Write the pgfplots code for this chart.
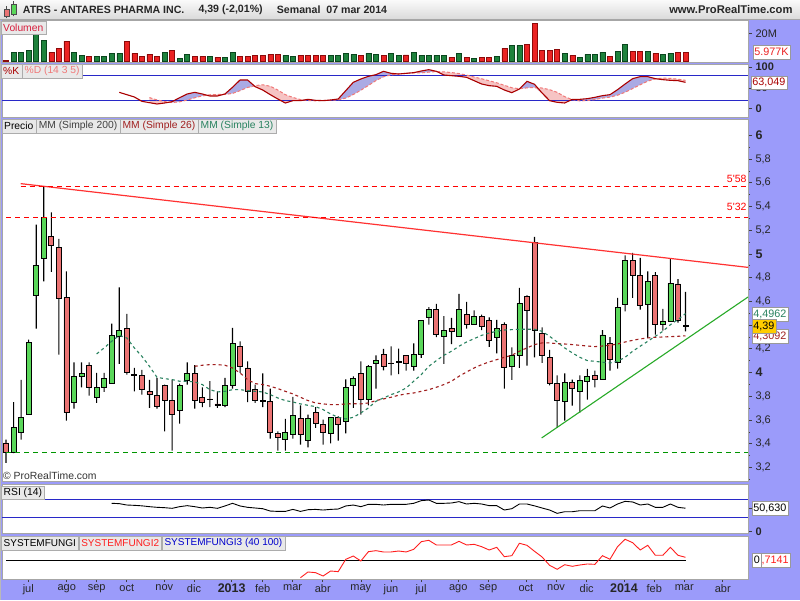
\documentclass[border=0pt]{standalone}
\usepackage{fontspec}
\setmainfont{Liberation Sans}
\usepackage{pgfplots}
\usepackage{pgfplotstable}
\pgfplotsset{compat=1.18}
\newcommand\fs[1]{\fontsize{#1}{#1}\selectfont}
\definecolor{lav}{RGB}{155,155,250}
\definecolor{cgreen}{RGB}{90,215,90}
\definecolor{cred}{RGB}{235,115,115}
\definecolor{vgreen}{RGB}{30,130,60}
\definecolor{vgreenD}{RGB}{10,70,30}
\definecolor{vred}{RGB}{235,35,35}
\definecolor{vredD}{RGB}{140,10,10}
\definecolor{mmA}{RGB}{40,130,95}
\definecolor{mmB}{RGB}{160,30,30}
\definecolor{trendred}{RGB}{255,50,50}
\definecolor{dashR}{RGB}{255,0,0}
\definecolor{dashG}{RGB}{0,150,0}
\definecolor{tgreen}{RGB}{40,170,40}
\definecolor{stK}{RGB}{170,0,0}
\definecolor{stD}{RGB}{240,120,120}
\definecolor{stblue}{RGB}{170,170,228}
\definecolor{stpink}{RGB}{246,196,196}
\definecolor{bline}{RGB}{40,40,200}
\definecolor{fungired}{RGB}{255,30,30}
\definecolor{gold}{RGB}{255,204,0}
\definecolor{lblred}{RGB}{215,30,60}

\pgfplotstableread{
i O H L C
1 3.406 3.434 3.237 3.327
2 3.327 3.751 3.320 3.538
3 3.496 3.937 3.434 3.622
4 3.647 4.277 3.647 4.254
5 4.651 5.247 4.370 4.904
6 4.960 5.570 4.769 5.308
7 5.143 5.350 4.848 5.072
8 5.055 5.126 4.151 4.625
9 4.631 4.853 3.594 3.664
10 3.749 4.086 3.695 3.968
11 3.968 4.086 3.875 3.993
12 4.061 4.086 3.805 3.875
13 3.791 3.996 3.743 3.875
14 3.875 3.996 3.836 3.951
15 3.906 4.412 3.906 4.313
16 4.305 4.718 4.072 4.356
17 4.373 4.493 3.982 4.001
18 3.982 4.038 3.841 3.973
19 3.976 4.021 3.813 3.858
20 3.841 3.937 3.701 3.813
21 3.808 3.954 3.695 3.712
22 3.892 3.898 3.504 3.765
23 3.765 3.940 3.341 3.647
24 3.681 3.906 3.569 3.892
25 3.931 4.086 3.898 3.993
26 3.993 4.061 3.695 3.765
27 3.791 3.875 3.707 3.749
28 3.777 3.926 3.707 3.771
29 3.735 3.841 3.701 3.723
30 3.723 3.954 3.707 3.892
31 3.892 4.375 3.864 4.246
32 4.221 4.263 3.996 4.047
33 4.038 4.094 3.749 3.841
34 3.858 3.898 3.743 3.763
35 3.763 3.993 3.707 3.757
36 3.757 3.864 3.442 3.496
37 3.487 3.504 3.341 3.453
38 3.434 3.608 3.341 3.498
39 3.479 3.794 3.442 3.639
40 3.614 3.723 3.392 3.479
41 3.428 3.645 3.369 3.614
42 3.664 3.707 3.532 3.572
43 3.563 3.602 3.392 3.496
44 3.487 3.622 3.403 3.622
45 3.622 3.630 3.425 3.566
46 3.588 3.942 3.487 3.875
47 3.892 3.968 3.701 3.951
48 3.993 4.094 3.645 3.774
49 3.774 4.061 3.723 4.052
50 4.075 4.145 3.864 4.103
51 4.153 4.198 4.018 4.055
52 4.080 4.221 3.976 4.075
53 4.094 4.201 3.987 4.083
54 4.145 4.145 4.016 4.075
55 4.052 4.246 4.016 4.150
56 4.153 4.440 4.122 4.440
57 4.465 4.550 4.403 4.533
58 4.533 4.578 4.297 4.322
59 4.302 4.474 4.072 4.356
60 4.373 4.460 4.240 4.344
61 4.302 4.662 4.302 4.533
62 4.491 4.595 4.370 4.406
63 4.406 4.524 4.406 4.474
64 4.474 4.488 4.358 4.387
65 4.440 4.465 4.215 4.271
66 4.297 4.443 4.162 4.373
67 4.406 4.423 3.864 4.044
68 4.049 4.212 3.937 4.145
69 4.145 4.713 4.038 4.583
70 4.642 4.651 4.058 4.524
71 5.098 5.143 4.128 4.358
72 4.330 4.381 4.080 4.145
73 4.128 4.190 3.892 3.909
74 3.909 3.976 3.532 3.765
75 3.754 3.993 3.594 3.917
76 3.917 3.940 3.720 3.867
77 3.839 3.976 3.661 3.934
78 3.923 4.030 3.771 3.968
79 3.976 4.016 3.875 3.942
80 3.940 4.358 3.940 4.316
81 4.246 4.297 4.016 4.111
82 4.086 4.628 4.032 4.550
83 4.578 4.988 4.516 4.943
84 4.943 5.008 4.628 4.819
85 4.819 4.966 4.530 4.567
86 4.578 4.853 4.291 4.769
87 4.819 4.845 4.319 4.403
88 4.403 4.536 4.353 4.434
89 4.432 4.960 4.426 4.752
90 4.746 4.788 4.420 4.440
91 4.400 4.679 4.347 4.390
}\price

\pgfplotstableread{
i v
2 6.26
3 6.26
4 7.70
5 19.25
6 14.92
10 6.26
11 4.09
13 3.37
14 3.37
15 5.54
16 5.54
22 6.26
24 1.68
25 4.82
28 3.37
30 2.65
31 6.26
38 4.09
39 3.37
44 4.09
45 4.09
46 5.54
47 4.82
49 5.54
50 4.82
52 5.54
53 4.09
55 6.26
56 4.09
57 4.09
58 4.09
59 4.09
61 5.54
63 1.93
66 3.37
68 11.31
69 11.31
75 5.54
77 2.65
78 4.82
79 4.82
80 6.26
82 6.74
83 12.04
86 6.98
88 4.82
89 5.54
}\volg

\pgfplotstableread{
i v
1 0.72
7 6.26
8 9.15
9 14.20
12 3.37
17 14.20
18 5.54
19 3.37
20 4.82
21 3.37
23 7.70
26 3.37
27 3.37
29 2.65
32 3.37
33 3.37
34 4.09
35 4.09
36 4.82
37 4.82
40 4.09
41 4.09
42 4.09
43 4.09
48 4.09
51 4.09
54 4.33
60 2.65
62 2.65
64 2.65
65 2.65
67 9.15
70 12.04
71 27.2
72 7.70
73 7.46
74 8.43
76 4.09
81 3.37
84 6.98
85 6.98
87 5.54
90 6.26
91 5.98
}\volr

\pgfplotstableread{
i v
13 4.156
14 4.207
15 4.263
16 4.313
17 4.291
18 4.207
19 4.136
20 4.052
21 3.959
22 3.948
23 3.940
24 3.926
25 3.926
26 3.920
27 3.898
28 3.855
29 3.836
30 3.841
31 3.855
32 3.855
33 3.847
34 3.841
35 3.836
36 3.813
37 3.785
38 3.763
39 3.751
40 3.735
41 3.723
42 3.712
43 3.687
44 3.650
45 3.622
46 3.608
47 3.622
48 3.659
49 3.701
50 3.757
51 3.785
52 3.813
53 3.836
54 3.869
55 3.926
56 3.982
57 4.052
58 4.100
59 4.145
60 4.179
61 4.221
62 4.257
63 4.285
64 4.313
65 4.333
66 4.347
67 4.358
68 4.361
69 4.364
70 4.364
71 4.364
72 4.347
73 4.305
74 4.257
75 4.207
76 4.165
77 4.128
78 4.100
79 4.094
80 4.086
81 4.080
82 4.094
83 4.128
84 4.179
85 4.221
86 4.263
87 4.305
88 4.347
89 4.403
90 4.446
91 4.496
}\mma

\pgfplotstableread{
i v
26 4.052
27 4.061
28 4.066
29 4.066
30 4.061
31 4.038
32 3.996
33 3.940
34 3.906
35 3.898
36 3.884
37 3.864
38 3.841
39 3.819
40 3.791
41 3.763
42 3.743
43 3.735
44 3.729
45 3.729
46 3.735
47 3.737
48 3.735
49 3.743
50 3.763
51 3.777
52 3.791
53 3.808
54 3.819
55 3.827
56 3.841
57 3.855
58 3.875
59 3.898
60 3.926
61 3.968
62 4.004
63 4.038
64 4.066
65 4.089
66 4.108
67 4.128
68 4.145
69 4.179
70 4.207
71 4.235
72 4.249
73 4.249
74 4.243
75 4.240
76 4.235
77 4.229
78 4.223
79 4.218
80 4.223
81 4.229
82 4.240
83 4.257
84 4.271
85 4.283
86 4.291
87 4.297
88 4.299
89 4.302
90 4.305
91 4.309
}\mmb

\pgfplotstableread{
i K
16 39.1
17 33.5
18 27.9
19 17.5
20 14.3
21 11.1
22 13.5
23 16.7
24 26.3
25 35.1
26 39.1
27 35.1
28 30.3
29 30.3
30 35.1
31 51.1
32 68.7
33 68.7
34 52.7
35 44.7
36 33.5
37 23.1
38 13.5
39 19.1
40 19.1
41 22.3
42 19.9
43 19.1
44 20.7
45 23.1
46 43.1
47 63.1
48 71.1
49 77.5
50 81.5
51 89.5
52 84.7
53 83.1
54 84.7
55 86.3
56 90.3
57 93.5
58 89.5
59 80.7
60 79.1
61 77.5
62 75.1
63 67.1
64 59.1
65 55.1
66 53.5
67 44.7
68 38.3
69 47.1
70 65.5
71 58.4
72 37.5
73 19.1
74 15.1
75 13.5
76 22.3
77 22.3
78 23.9
79 27.1
80 31.1
81 33.5
82 45.5
83 59.1
84 71.9
85 76.7
86 76.7
87 71.9
88 69.5
89 67.9
90 67.1
91 63.05
}\stochK

\pgfplotstableread{
i K D M
20 14.3 26.5 14.3
21 11.1 20.9 11.1
22 13.5 16.9 13.5
23 16.7 14.6 14.6
24 26.3 16.4 16.4
25 35.1 20.5 20.5
26 39.1 26.1 26.1
27 35.1 30.5 30.5
28 30.3 33.2 30.3
29 30.3 34.0 30.3
30 35.1 34.0 34.0
31 51.1 36.4 36.4
32 68.7 43.1 43.1
33 68.7 50.8 50.8
34 52.7 55.3 52.7
35 44.7 57.2 44.7
36 33.5 53.7 33.5
37 23.1 44.5 23.1
38 13.5 33.5 13.5
39 19.1 26.8 19.1
40 19.1 21.7 19.1
41 22.3 19.4 19.4
42 19.9 18.8 18.8
43 19.1 19.9 19.1
44 20.7 20.2 20.2
45 23.1 21.0 21.0
46 43.1 25.2 25.2
47 63.1 33.8 33.8
48 71.1 44.2 44.2
49 77.5 55.6 55.6
50 81.5 67.3 67.3
51 89.5 76.5 76.5
52 84.7 80.9 80.9
53 83.1 83.3 83.1
54 84.7 84.6 84.6
55 86.3 85.7 85.7
56 90.3 85.8 85.8
57 93.5 87.6 87.6
58 89.5 88.9 88.9
59 80.7 88.1 80.7
60 79.1 86.6 79.1
61 77.5 84.1 77.5
62 75.1 80.4 75.1
63 67.1 75.9 67.1
64 59.1 71.6 59.1
65 55.1 66.8 55.1
66 53.5 62.0 53.5
67 44.7 55.9 44.7
68 38.3 50.1 38.3
69 47.1 47.7 47.1
70 65.5 49.8 49.8
71 58.4 50.8 50.8
72 37.5 49.4 37.5
73 19.1 45.5 19.1
74 15.1 39.1 15.1
75 13.5 28.7 13.5
76 22.3 21.5 21.5
77 22.3 18.5 18.5
78 23.9 19.4 19.4
79 27.1 21.8 21.8
80 31.1 25.3 25.3
81 33.5 27.6 27.6
82 45.5 32.2 32.2
83 59.1 39.3 39.3
84 71.9 48.2 48.2
85 76.7 57.3 57.3
86 76.7 66.0 66.0
87 71.9 71.3 71.3
88 69.5 73.3 69.5
89 67.9 72.5 67.9
90 67.1 70.6 67.1
91 63.05 67.9 63.05
}\stochF

\pgfplotstableread{
i v
15 61.3
16 60.6
17 57.6
18 56.9
19 55.8
20 54.0
21 52.6
22 51.8
23 50.4
24 54.0
25 56.2
26 54.0
27 51.1
28 52.6
29 50.4
30 55.5
31 61.3
32 55.5
33 52.6
34 51.1
35 49.6
36 44.5
37 43.7
38 43.7
39 48.1
40 43.7
41 47.4
42 48.1
43 46.7
44 48.1
45 48.9
46 55.5
47 57.6
48 54.0
49 59.1
50 59.1
51 57.6
52 59.1
53 59.1
54 59.1
55 61.3
56 67.1
57 68.5
58 61.3
59 61.3
60 62.0
61 64.9
62 59.8
63 61.3
64 59.8
65 56.2
66 56.2
67 46.7
68 49.6
69 59.8
70 59.8
71 55.8
72 51.1
73 46.7
74 39.5
75 43.0
76 43.0
77 45.2
78 45.2
79 45.2
80 55.5
81 51.1
82 59.8
83 65.6
84 64.2
85 57.6
86 59.8
87 52.6
88 52.6
89 59.8
90 52.6
91 50.63
}\rsi

\pgfplotstableread{
i v
40 -4.14
41 -2.78
42 -2.94
43 -3.74
44 -2.55
45 -2.70
46 0.23
47 1.02
48 -0.17
49 2.05
50 2.29
51 1.98
52 1.98
53 2.21
54 1.98
55 2.61
56 4.43
57 4.76
58 3.64
59 3.64
60 3.64
61 4.52
62 3.64
63 3.80
64 3.24
65 2.45
66 3.09
67 0.86
68 1.10
69 4.05
70 3.57
71 2.14
72 0.79
73 -1.19
74 -2.14
75 -1.05
76 -1.43
77 -1.12
78 -0.88
79 -0.96
80 1.10
81 0.24
82 3.24
83 5.00
84 4.19
85 2.45
86 3.57
87 1.19
88 1.19
89 3.09
90 1.19
91 0.71
}\fungi

\pgfplotsset{
  panel/.style={scale only axis, anchor=south west, width=746pt,
    enlargelimits=false, xmin=0.47, xmax=99.28, clip=true, xtick=\empty},
  framed/.style={axis background/.style={fill=white},
    axis line style={draw=gray!70}, ytick pos=right, yticklabel pos=right,
    tick align=outside, major tick length=4pt, minor tick length=2pt,
    tick style={black!75, line width=0.5pt},
    yticklabel style={font=\fs{11}, text=black!85}},
}
\tikzset{
  lbl/.style={draw=gray!65, fill=gray!17, anchor=west, inner xsep=2.5pt,
    inner ysep=0.5pt, minimum height=13.5pt, font=\fs{10.3}},
  vbox/.style={draw=gray!80, fill=white, anchor=west, inner xsep=1.5pt,
    inner ysep=0.5pt, minimum height=13.5pt, font=\fs{10.8}},
}

\begin{document}
\begin{tikzpicture}[x=1pt,y=1pt]
\useasboundingbox (0,0) rectangle (800,600);
\fill[lav] (0,0) rectangle (800,600);
\fill[gray!55] (0,0) rectangle (1.2,580);
% header
\shade[top color=gray!4, bottom color=gray!30] (0,580) rectangle (800,600);
\draw[gray!70] (0,580.5) -- (800,580.5);
\draw[black!70, line width=0.6pt] (6.5,581.5) -- (6.5,594);
\filldraw[fill=cred, draw=black!70, line width=0.5pt] (4,584) rectangle (9,591);
\draw[black!70, line width=0.6pt] (13.5,583.5) -- (13.5,598.5);
\filldraw[fill=cgreen, draw=black!70, line width=0.5pt] (11,585.5) rectangle (16,596);
\node[anchor=west, font=\fs{10.6}\bfseries, text=black!85, inner sep=0pt] at (22.7,590) {ATRS - ANTARES PHARMA INC.};
\node[anchor=west, font=\fs{10.6}\bfseries, text=black!85, inner sep=0pt] at (198.3,590) {4,39 (-2,01\%)};
\node[anchor=west, font=\fs{10.6}\bfseries, text=black!85, inner sep=0pt] at (276.7,590) {Semanal\ \ 07 mar 2014};
\node[anchor=east, font=\fs{11.2}\bfseries, text=black!85, inner sep=0pt] at (792.7,590) {www.ProRealTime.com};

% ---------- Volume ----------
\begin{axis}[panel, framed, at={(2pt,538pt)}, height=42pt, ymin=-0.72, ymax=29.6,
  ytick={20}, yticklabels={20M}, ybar, bar width=5pt]
\addplot[bar shift=0pt, fill=vgreen, draw=vgreenD, line width=0.5pt] table[x=i,y=v]{\volg};
\addplot[bar shift=0pt, fill=vred, draw=vredD, line width=0.5pt] table[x=i,y=v]{\volr};
\end{axis}

% ---------- Stochastic ----------
\begin{axis}[panel, framed, at={(2pt,483pt)}, height=53pt, ymin=-20.1, ymax=107.1,
  ytick={0,50,100}, yticklabels={{\bfseries 0},50,{\bfseries 100}}]
\addplot[draw=none] coordinates {(20,50)};
\end{axis}
\begin{axis}[panel, hide axis, at={(2pt,483pt)}, height=53pt, ymin=-20.1, ymax=107.1, stack plots=y]
\addplot[draw=none] table[x=i,y=M]{\stochF};
\addplot[draw=none, fill=stblue] table[x=i,y expr=\thisrow{K}-\thisrow{M}]{\stochF} \closedcycle;
\end{axis}
\begin{axis}[panel, hide axis, at={(2pt,483pt)}, height=53pt, ymin=-20.1, ymax=107.1, stack plots=y]
\addplot[draw=none] table[x=i,y=M]{\stochF};
\addplot[draw=none, fill=stpink] table[x=i,y expr=\thisrow{D}-\thisrow{M}]{\stochF} \closedcycle;
\end{axis}
\begin{axis}[panel, hide axis, at={(2pt,483pt)}, height=53pt, ymin=-20.1, ymax=107.1]
\addplot[color=bline, line width=0.9pt] coordinates {(0.47,80) (99.28,80)};
\addplot[color=bline, line width=0.9pt] coordinates {(0.47,20) (99.28,20)};
\addplot[color=stD, line width=1pt, dash pattern=on 3pt off 2pt] table[x=i,y=D]{\stochF};
\addplot[color=stK, line width=1.1pt] table[x=i,y=K]{\stochK};
\end{axis}

% ---------- Price: frame ----------
\begin{axis}[panel, framed, at={(2pt,119pt)}, height=362pt, ymin=3.085, ymax=6.137,
  ytick={3.2,3.4,3.6,3.8,4,4.2,4.4,4.6,4.8,5,5.2,5.4,5.6,5.8,6},
  yticklabels={{3,2},{3,4},{3,6},{3,8},{\fs{12.5}\bfseries 4},{4,2},{4,4},{4,6},{4,8},{\fs{12.5}\bfseries 5},{5,2},{5,4},{5,6},{5,8},{\fs{12.5}\bfseries 6}},
  minor ytick={3.1,3.3,3.5,3.7,3.9,4.1,4.3,4.5,4.7,4.9,5.1,5.3,5.5,5.7,5.9}]
\addplot[draw=none] coordinates {(1,4)};
\end{axis}
% wicks
\begin{axis}[panel, hide axis, at={(2pt,119pt)}, height=362pt, ymin=3.085, ymax=6.137,
  ybar stacked, bar width=1.1pt]
\addplot[draw=none, fill=none] table[x=i,y=L]{\price};
\addplot[draw=none, fill=black] table[x=i,y expr=\thisrow{H}-\thisrow{L}]{\price};
\end{axis}
% bodies
\begin{axis}[panel, hide axis, at={(2pt,119pt)}, height=362pt, ymin=3.085, ymax=6.137,
  ybar stacked, bar width=5pt]
\addplot[draw=none, fill=none] table[x=i,y expr={min(\thisrow{O},\thisrow{C})}]{\price};
\addplot[draw=black, line width=0.8pt, fill=cgreen] table[x=i,y expr={max(\thisrow{C}-\thisrow{O},0)}]{\price};
\addplot[draw=black, line width=0.8pt, fill=cred] table[x=i,y expr={max(\thisrow{O}-\thisrow{C},0)}]{\price};
\end{axis}
% lines
\begin{axis}[panel, hide axis, at={(2pt,119pt)}, height=362pt, ymin=3.085, ymax=6.137]
\addplot[draw=none] coordinates {(1,4)};
\addplot[draw=trendred, line width=1.2pt] coordinates {(2.95,5.592) (99.28,4.886)};
\addplot[draw=dashR, line width=1.25pt, dash pattern=on 5pt off 4pt] coordinates {(2.95,5.568) (99.28,5.568)};
\addplot[draw=dashR, line width=1.25pt, dash pattern=on 5pt off 4pt] coordinates {(1,5.307) (99.28,5.307)};
\addplot[draw=dashG, line width=1.25pt, dash pattern=on 5pt off 4pt] coordinates {(1,3.325) (99.28,3.325)};
\addplot[draw=tgreen, line width=1.1pt] coordinates {(71.95,3.448) (99.28,4.636)};
\addplot[draw=mmB, line width=1.1pt, dash pattern=on 3pt off 3pt] table[x=i,y=v]{\mmb};
\addplot[draw=mmA, line width=1.1pt, dash pattern=on 3pt off 3pt] table[x=i,y=v]{\mma};
\end{axis}

% ---------- RSI ----------
\begin{axis}[panel, framed, at={(2pt,67pt)}, height=49pt, ymin=-3.26, ymax=103.3,
  ytick={0,50}, yticklabels={{\bfseries 0},{}}]
\addplot[color=bline, line width=0.9pt] coordinates {(0.47,70) (99.28,70)};
\addplot[color=bline, line width=0.9pt] coordinates {(0.47,30) (99.28,30)};
\addplot[color=black, line width=0.9pt] table[x=i,y=v]{\rsi};
\end{axis}

% ---------- SYSTEMFUNGI ----------
\begin{axis}[panel, framed, at={(2pt,21pt)}, height=43pt, ymin=-4.45, ymax=5.78,
  ytick=\empty, xtick pos=left, major tick length=3pt,
  xtick={3.95,9.04,13.01,16.99,21.97,25.9,30.89,35.0,38.97,42.95,48.0,51.99,55.97,60.9,64.88,69.87,73.85,77.91,82.85,86.87,90.84,95.93},
  xticklabels={jul,ago,sep,oct,nov,dic,{\fs{12.5}\bfseries 2013},feb,mar,abr,may,jun,jul,ago,sep,oct,nov,dic,{\fs{12.5}\bfseries 2014},feb,mar,abr},
  xticklabel style={font=\fs{11}, text=black!85, inner sep=2pt}]
\addplot[color=black, line width=0.9pt] coordinates {(1,0) (91,0)};
\addplot[color=fungired, line width=0.9pt] table[x=i,y=v]{\fungi};
\end{axis}

% ---------- labels ----------
\node[lbl, text=lblred] at (0.5,572.5) {Volumen};
\node[lbl, text=stK] (k1) at (0.5,529) {\%K};
\node[lbl, text=stD] at (k1.east) {\%D (14 3 5)};
\node[lbl, text=black] (p1) at (1.5,473.7) {Precio};
\node[lbl, text=black!75] (p2) at (p1.east) {MM (Simple 200)};
\node[lbl, text=mmB] (p3) at (p2.east) {MM (Simple 26)};
\node[lbl, text=mmA] (p4) at (p3.east) {MM (Simple 13)};
\node[lbl, text=black] at (1,107.5) {RSI (14)};
\node[lbl, text=black, font=\fs{10}] (f1) at (1,56.7) {SYSTEMFUNGI};
\node[lbl, text=fungired, font=\fs{10}] (f2) at (f1.east) {SYSTEMFUNGI2};
\node[lbl, text=blue!80!black, font=\fs{10}] at (f2.east) {SYSTEMFUNGI3 (40 100)};
\node[anchor=west, font=\fs{10.4}, text=black!80, inner sep=0pt] at (3,124) {© ProRealTime.com};
\node[anchor=east, font=\fs{10.5}, text=dashR, inner sep=0pt] at (746.7,421.3) {5\textquotesingle 58};
\node[anchor=east, font=\fs{10.5}, text=dashR, inner sep=0pt] at (746.7,392.7) {5\textquotesingle 32};

% ---------- value boxes ----------
\node[vbox, text=vred] at (752.7,548) {5.977K};
\node[vbox, text=stK] at (750.7,517.3) {63,049};
\node[vbox, text=mmA] at (751.7,285.7) {4,4962};
\node[vbox, text=mmB] at (751.7,264) {4,3092};
\node[vbox, fill=gold, text=black] at (751.7,274) {4,39};
\node[vbox, text=black] at (751.7,91.7) {50,630};
\node[vbox, text=fungired] at (754,40) {0,7141};
\node[vbox, text=black] at (752.2,40) {0};
\end{tikzpicture}
\end{document}
